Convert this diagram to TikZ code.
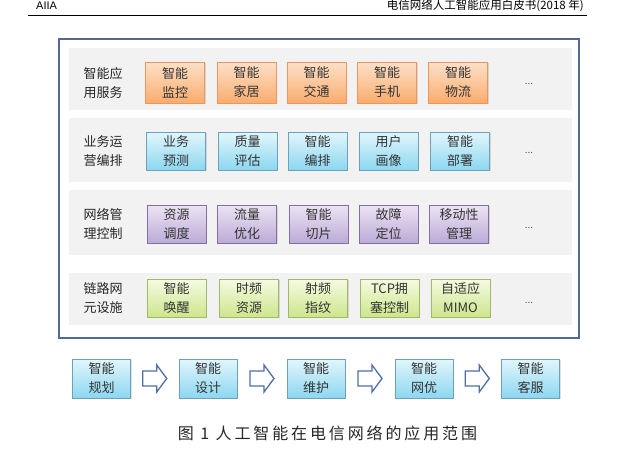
\documentclass[tikz,border=0pt]{standalone}
\usepackage{fontspec}
\setmainfont{Liberation Sans}
\newfontfamily\cjk{Noto Sans CJK SC}
\newfontfamily\capfont[LetterSpace=18]{Noto Sans CJK SC}
\usetikzlibrary{shadows,calc}
\definecolor{orTop}{RGB}{253,224,200}
\definecolor{orBot}{RGB}{250,172,110}
\definecolor{orBorder}{RGB}{236,150,90}
\definecolor{blTop}{RGB}{226,246,252}
\definecolor{blBot}{RGB}{140,215,240}
\definecolor{blBorder}{RGB}{110,160,185}
\definecolor{puTop}{RGB}{236,228,244}
\definecolor{puBot}{RGB}{188,170,215}
\definecolor{puBorder}{RGB}{130,112,160}
\definecolor{grTop}{RGB}{245,251,225}
\definecolor{grBot}{RGB}{205,230,140}
\definecolor{grBorder}{RGB}{160,185,105}
\definecolor{bandgray}{RGB}{242,242,242}
\definecolor{frameblue}{RGB}{84,104,150}
\definecolor{arrowblue}{RGB}{80,110,165}
\begin{document}
\begin{tikzpicture}[x=1pt,y=-1pt,
  cell/.style={draw, line width=0.8pt, minimum width=59pt, minimum height=40pt,
    inner sep=0pt, align=center, font=\cjk\fontsize{13pt}{19pt}\selectfont,
    text=black!80,
    drop shadow={opacity=0.25,shadow xshift=1pt,shadow yshift=-1.3pt}},
  orcell/.style={cell, draw=orBorder, top color=orTop, bottom color=orBot},
  blcell/.style={cell, draw=blBorder, top color=blTop, bottom color=blBot},
  pucell/.style={cell, draw=puBorder, top color=puTop, bottom color=puBot},
  grcell/.style={cell, draw=grBorder, top color=grTop, bottom color=grBot},
  flowcell/.style={blcell, minimum width=58pt, minimum height=39pt},
  band/.style={fill=bandgray, draw=none, minimum width=503pt, inner sep=0pt},
  rowlabel/.style={align=center, inner sep=0pt, font=\cjk\fontsize{13pt}{19pt}\selectfont, text=black!85},
  dots/.style={inner sep=0pt, font=\fontsize{10pt}{10pt}\selectfont, text=black!75},
  barrow/.style={draw=arrowblue, fill=white, line width=1.3pt, line join=miter}
]
\useasboundingbox (0,0) rectangle (626,453);

% header
\node[anchor=west, inner sep=0pt, font=\fontsize{11pt}{12pt}\selectfont] (hl) at (36,6) {AIIA};
\node[anchor=east, inner sep=0pt, font=\cjk\fontsize{11.5pt}{12pt}\selectfont] (hr) at (584,6) {电信网络人工智能应用白皮书(2018 年)};
\coordinate (rl) at (28,15);
\coordinate (rr) at (587,15);
\draw[line width=0.9pt] (rl) -- (rr);

% frame
\node[draw=frameblue, line width=1.6pt, fill=white, minimum width=520pt, minimum height=299pt, inner sep=0pt] (frame) at (319,188.5) {};

% bands
\node[band, minimum height=62pt] (band1) at (320.5,79) {};
\node[band, minimum height=64pt] (band2) at (320.5,150) {};
\node[band, minimum height=65pt] (band3) at (320.5,222.5) {};
\node[band, minimum height=52pt] (band4) at (320.5,299) {};

% row labels
\node[rowlabel] (lab1) at (103,83) {智能应\\用服务};
\node[rowlabel] (lab2) at (103,151) {业务运\\营编排};
\node[rowlabel] (lab3) at (103,224) {网络管\\理控制};
\node[rowlabel] (lab4) at (103,298) {链路网\\元设施};

% row 1
\node[orcell, minimum height=41pt] (a1) at (175,82.5) {智能\\监控};
\node[orcell, minimum height=41pt] (a2) at (246.5,82.5) {智能\\家居};
\node[orcell, minimum height=41pt] (a3) at (316.5,82.5) {智能\\交通};
\node[orcell, minimum height=41pt] (a4) at (387,82.5) {智能\\手机};
\node[orcell, minimum height=41pt] (a5) at (458,82.5) {智能\\物流};
\node[dots] (d1) at (529,84) {...};

% row 2
\node[blcell, minimum height=38pt] (b1) at (176,151) {业务\\预测};
\node[blcell, minimum height=38pt] (b2) at (247.5,151) {质量\\评估};
\node[blcell, minimum height=38pt] (b3) at (317.5,151) {智能\\编排};
\node[blcell, minimum height=38pt] (b4) at (388.5,151) {用户\\画像};
\node[blcell, minimum height=38pt] (b5) at (460,151) {智能\\部署};
\node[dots] (d2) at (529,153) {...};

% row 3
\node[pucell, minimum height=38pt] (c1) at (176.5,224) {资源\\调度};
\node[pucell, minimum height=38pt] (c2) at (247,224) {流量\\优化};
\node[pucell, minimum height=38pt] (c3) at (318.5,224) {智能\\切片};
\node[pucell, minimum height=38pt] (c4) at (388.5,224) {故障\\定位};
\node[pucell, minimum height=38pt] (c5) at (459,224) {移动性\\管理};
\node[dots] (d3) at (529,228) {...};

% row 4
\node[grcell, minimum height=38pt] (e1) at (176.5,298) {智能\\唤醒};
\node[grcell, minimum height=38pt] (e2) at (249,298) {时频\\资源};
\node[grcell, minimum height=38pt] (e3) at (318,298) {射频\\指纹};
\node[grcell, minimum height=38pt] (e4) at (389.5,298) {TCP拥\\塞控制};
\node[grcell, minimum height=38pt] (e5) at (460.5,298) {自适应\\MIMO};
\node[dots] (d4) at (529,303) {...};

% flow row
\node[flowcell] (f1) at (101.5,378.5) {智能\\规划};
\node[flowcell] (f2) at (208,378.5) {智能\\设计};
\node[flowcell] (f3) at (316,378.5) {智能\\维护};
\node[flowcell] (f4) at (424,378.5) {智能\\网优};
\node[flowcell] (f5) at (530.5,378.5) {智能\\客服};

\foreach \p/\q in {f1/f2,f2/f3,f3/f4,f4/f5}{
  \draw[barrow, shift={($(\p.east)!0.5!(\q.west)$)}]
    (-12,-7.5) -- (2,-7.5) -- (2,-13.5) -- (12,0) -- (2,13.5) -- (2,7.5) -- (-12,7.5) -- cycle;
}

% caption
\node[inner sep=0pt, font=\capfont\fontsize{16pt}{18pt}\selectfont, text=black!85] (cap) at (327.5,433) {图 1 人工智能在电信网络的应用范围};
\end{tikzpicture}
\end{document}
